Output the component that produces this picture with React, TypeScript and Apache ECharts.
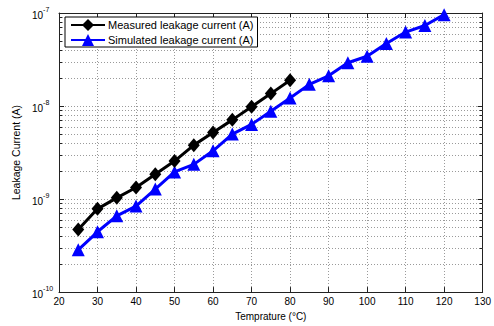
import React, { useEffect, useRef } from "react";
import * as echarts from "echarts";

const measuredTemps = [25, 30, 35, 40, 45, 50, 55, 60, 65, 70, 75, 80];
const measuredCurrent = [4.7e-10, 7.85e-10, 1.03e-9, 1.33e-9, 1.85e-9, 2.56e-9, 3.8e-9, 5.2e-9, 7.1e-9, 9.8e-9, 1.36e-8, 1.89e-8];
const simulatedTemps = [25, 30, 35, 40, 45, 50, 55, 60, 65, 70, 75, 80, 85, 90, 95, 100, 105, 110, 115, 120];
const simulatedCurrent = [
  2.85e-10, 4.45e-10, 6.6e-10, 8.4e-10, 1.28e-9, 1.96e-9, 2.36e-9, 3.3e-9, 5.0e-9, 6.35e-9,
  8.8e-9, 1.22e-8, 1.71e-8, 2.11e-8, 2.92e-8, 3.43e-8, 4.71e-8, 6.24e-8, 7.34e-8, 9.6e-8,
];
const xMin = 20;
const xMax = 130;
const xInterval = 10;
const yMin = 1e-10;
const yMax = 1e-7;
const minorMantissas = [2, 3, 4, 5, 6, 7, 8, 9];
const minorDecades = [1e-10, 1e-9, 1e-8];
const seriesNames = ["Measured leakage current (A)", "Simulated leakage current (A)"];

const FONT = "Liberation Sans";

export default function App() {
  const ref = useRef<HTMLDivElement>(null);
  useEffect(() => {
    const chart = echarts.init(ref.current!, null, { renderer: "svg" });
    const minorValues: number[][] = [];
    minorDecades.forEach((d) => minorMantissas.forEach((m) => minorValues.push([xMin, m * d])));
    const gridDot = { color: "#9a9a9a", width: 1, type: [1, 2] as any };
    const axisLineStyle = { color: "#222", width: 1 };
    chart.setOption({
      animation: false,
      backgroundColor: "#fff",
      textStyle: { fontFamily: FONT },
      grid: { left: 59, right: 11, top: 13, bottom: 29, containLabel: false },
      legend: {
        data: seriesNames,
        orient: "vertical",
        left: 65,
        top: 17,
        padding: [2, 4, 1, 5],
        itemGap: 3,
        itemWidth: 34,
        itemHeight: 15,
        backgroundColor: "#fff",
        borderColor: "#000",
        borderWidth: 1,
        borderRadius: 0,
        textStyle: { fontFamily: FONT, fontSize: 11, color: "#000", padding: [0, 0, 0, -2] },
      },
      xAxis: [
        {
          type: "value",
          min: xMin,
          max: xMax,
          interval: xInterval,
          name: "Temprature (°C)",
          nameLocation: "middle",
          nameGap: 17,
          nameTextStyle: { fontFamily: FONT, fontSize: 10, color: "#000" },
          axisLine: { show: true, lineStyle: axisLineStyle },
          axisTick: { show: true, inside: true, length: 5, lineStyle: axisLineStyle },
          axisLabel: { fontFamily: FONT, fontSize: 10, color: "#000", margin: 4 },
          splitLine: { show: true, lineStyle: gridDot },
        },
        {
          type: "value",
          position: "top",
          min: xMin,
          max: xMax,
          interval: xInterval,
          axisLine: { show: true, lineStyle: axisLineStyle },
          axisTick: { show: true, inside: true, length: 5, lineStyle: axisLineStyle },
          axisLabel: { show: false },
          splitLine: { show: false },
        },
      ],
      yAxis: [
        {
          type: "log",
          logBase: 10,
          min: yMin,
          max: yMax,
          name: "Leakage Current (A)",
          nameLocation: "middle",
          nameGap: 32,
          nameTextStyle: { fontFamily: FONT, fontSize: 10.5, color: "#000" },
          axisLine: { show: true, lineStyle: axisLineStyle },
          axisTick: { show: true, inside: true, length: 5, lineStyle: axisLineStyle },
          axisLabel: {
            margin: 27,
            align: "left",
            formatter: (v: number) => `{b|10}{s|-${Math.round(-Math.log10(v))}}`,
            rich: {
              b: { fontFamily: FONT, fontSize: 10, color: "#000", verticalAlign: "bottom" },
              s: { fontFamily: FONT, fontSize: 7, color: "#000", verticalAlign: "bottom", padding: [0, 0, 7, 0] },
            },
          },
          splitLine: { show: true, lineStyle: gridDot },
        },
        {
          type: "log",
          logBase: 10,
          min: yMin,
          max: yMax,
          position: "right",
          axisLine: { show: true, lineStyle: axisLineStyle },
          axisTick: { show: true, inside: true, length: 5, lineStyle: axisLineStyle },
          axisLabel: { show: false },
          splitLine: { show: false },
        },
      ],
      series: [
        {
          type: "custom",
          silent: true,
          z: 1,
          xAxisIndex: 0,
          yAxisIndex: 0,
          data: minorValues,
          renderItem: (params: any, api: any) => {
            const cs = params.coordSys;
            const y = Math.round(api.coord([xMin, api.value(1)])[1]) + 0.5;
            return {
              type: "group",
              children: [
                { type: "line", shape: { x1: cs.x, y1: y, x2: cs.x + cs.width, y2: y }, style: { stroke: "#9a9a9a", lineWidth: 1, lineDash: [1, 2] } },
                { type: "line", shape: { x1: cs.x, y1: y, x2: cs.x + 3, y2: y }, style: { stroke: "#222", lineWidth: 1 } },
                { type: "line", shape: { x1: cs.x + cs.width - 3, y1: y, x2: cs.x + cs.width, y2: y }, style: { stroke: "#222", lineWidth: 1 } },
              ],
            };
          },
        },
        {
          name: seriesNames[0],
          type: "line",
          z: 3,
          data: measuredTemps.map((t, i) => [t, measuredCurrent[i]]),
          symbol: "diamond",
          symbolSize: [12, 14],
          itemStyle: { color: "#000" },
          lineStyle: { color: "#000", width: 3 },
        },
        {
          name: seriesNames[1],
          type: "line",
          z: 2,
          data: simulatedTemps.map((t, i) => [t, simulatedCurrent[i]]),
          symbol: "triangle",
          symbolSize: 13,
          itemStyle: { color: "#0000ff" },
          lineStyle: { color: "#0000ff", width: 3 },
        },
      ],
    });
    return () => chart.dispose();
  }, []);
  return <div ref={ref} style={{ position: "absolute", left: 0, top: 0, width: 494, height: 326, background: "#fff" }} />;
}
